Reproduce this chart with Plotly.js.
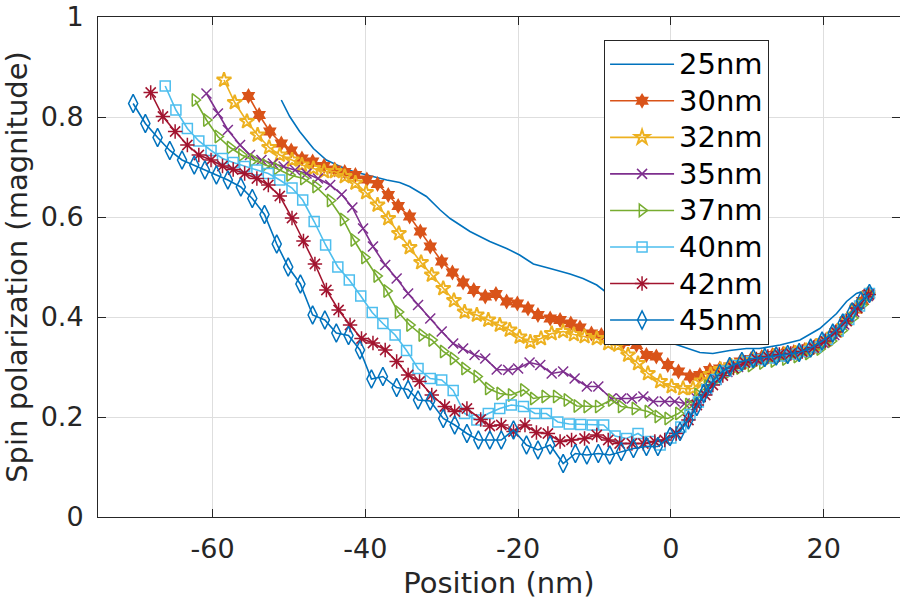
<!DOCTYPE html>
<html>
<head>
<meta charset="utf-8">
<script src="https://cdn.plot.ly/plotly-3.0.1.min.js"></script>
<style>
  body { margin: 0; background: #ffffff; }
  #chart { width: 900px; height: 600px; }
</style>
</head>
<body>
<div id="chart"></div>
<script>
// Spin polarization magnitude vs position, one series per thickness.
// Values.

const pos25 = [-51.0, -49.9, -48.6, -46.8, -45.1, -43.3, -41.6, -39.8, -37.2, -35.5,
  -34.2, -32.0, -30.2, -28.9, -26.3, -23.7, -21.5, -19.8, -18.0, -15.8,
  -13.2, -11.5, -9.7, -8.6, -6.5, -4.5, -2.5, -1.0, 0.3, 2.1,
  3.8, 5.5, 7.7, 9.9, 11.6, 14.3, 16.9, 19.5, 21.7, 23.0, 24.3, 25.6];
const pol25 = [0.834, 0.801, 0.771, 0.737, 0.714, 0.701, 0.691, 0.684, 0.674, 0.669,
  0.661, 0.641, 0.614, 0.597, 0.571, 0.551, 0.537, 0.524, 0.506, 0.497,
  0.486, 0.477, 0.464, 0.451, 0.430, 0.405, 0.380, 0.360, 0.347, 0.337,
  0.329, 0.327, 0.333, 0.337, 0.337, 0.344, 0.354, 0.377, 0.407, 0.431, 0.447, 0.454];

const pos30 = [-55.3, -53.9, -52.5, -51.0, -49.7, -48.3, -46.9, -45.4, -44.0, -42.7,
  -41.3, -39.8, -38.4, -37.0, -35.7, -34.2, -32.8, -31.5, -30.0, -28.6,
  -27.2, -25.8, -24.3, -22.9, -21.5, -20.1, -18.7, -17.4, -15.8, -14.5,
  -13.1, -11.9, -10.4, -9.1, -7.7, -6.2, -4.5, -3.2, -1.9, -0.4,
  1.0, 2.5, 3.8, 5.1, 6.4, 7.7, 9.1, 10.5, 11.9, 13.3,
  14.7, 16.1, 17.5, 18.9, 20.3, 21.6, 22.9, 24.2, 25.1, 25.9];
const pol30 = [0.842, 0.804, 0.771, 0.747, 0.733, 0.717, 0.711, 0.702, 0.695, 0.690,
  0.684, 0.675, 0.666, 0.644, 0.622, 0.601, 0.571, 0.541, 0.511, 0.489,
  0.469, 0.454, 0.441, 0.446, 0.431, 0.427, 0.417, 0.404, 0.397, 0.394,
  0.387, 0.379, 0.367, 0.364, 0.358, 0.350, 0.344, 0.324, 0.321, 0.304,
  0.291, 0.281, 0.284, 0.294, 0.297, 0.301, 0.311, 0.316, 0.320, 0.324,
  0.327, 0.330, 0.334, 0.342, 0.354, 0.370, 0.392, 0.415, 0.432, 0.446];

const pos32 = [-58.5, -57.1, -55.5, -54.1, -52.6, -51.2, -49.6, -48.3, -46.8, -45.4,
  -44.0, -42.7, -41.3, -39.9, -38.4, -37.0, -35.6, -34.2, -32.7, -31.3,
  -29.8, -28.4, -27.0, -25.4, -23.9, -22.4, -21.1, -19.8, -18.4, -17.0,
  -15.6, -14.1, -12.7, -11.3, -9.7, -8.2, -6.9, -5.6, -4.3, -3.0,
  -1.4, 0.1, 1.6, 2.9, 4.0, 5.2, 6.5, 7.9, 9.3, 10.7,
  12.1, 13.5, 14.9, 16.3, 17.7, 19.1, 20.5, 21.8, 23.1, 24.4, 25.8];
const pol32 = [0.874, 0.829, 0.791, 0.764, 0.739, 0.724, 0.714, 0.704, 0.697, 0.691,
  0.691, 0.681, 0.668, 0.649, 0.624, 0.597, 0.567, 0.539, 0.509, 0.484,
  0.457, 0.433, 0.410, 0.404, 0.394, 0.384, 0.374, 0.360, 0.350, 0.357,
  0.367, 0.371, 0.365, 0.361, 0.357, 0.347, 0.344, 0.324, 0.307, 0.287,
  0.271, 0.261, 0.257, 0.257, 0.272, 0.285, 0.295, 0.302, 0.309, 0.314,
  0.318, 0.322, 0.325, 0.328, 0.333, 0.342, 0.355, 0.372, 0.395, 0.420, 0.445];

const pos35 = [-60.8, -59.3, -58.0, -56.4, -55.1, -53.6, -52.1, -50.7, -49.2, -47.7,
  -46.2, -44.6, -43.1, -41.7, -40.3, -39.0, -37.4, -35.9, -34.4, -33.1,
  -31.5, -30.0, -28.5, -27.2, -25.7, -24.3, -22.8, -21.3, -20.0, -18.5,
  -17.1, -15.6, -14.1, -12.6, -11.0, -9.5, -7.8, -6.5, -5.1, -3.6,
  -2.3, -0.8, 0.5, 1.8, 3.4, 4.7, 6.0, 7.4, 8.8, 10.2,
  11.6, 13.0, 14.4, 15.8, 17.2, 18.6, 20.0, 21.4, 22.7, 24.0, 25.8];
const pol35 = [0.847, 0.807, 0.774, 0.744, 0.724, 0.714, 0.707, 0.701, 0.694, 0.687,
  0.677, 0.664, 0.645, 0.619, 0.577, 0.541, 0.504, 0.477, 0.447, 0.424,
  0.397, 0.371, 0.347, 0.337, 0.324, 0.317, 0.295, 0.294, 0.297, 0.309,
  0.304, 0.287, 0.291, 0.277, 0.261, 0.261, 0.237, 0.237, 0.237, 0.241,
  0.231, 0.231, 0.231, 0.227, 0.237, 0.255, 0.275, 0.290, 0.300, 0.307,
  0.312, 0.316, 0.320, 0.324, 0.329, 0.337, 0.348, 0.364, 0.385, 0.410, 0.442];

const pos37 = [-62.3, -60.8, -59.3, -57.7, -56.2, -54.7, -53.1, -51.6, -49.9, -48.1,
  -46.5, -44.6, -42.9, -41.5, -40.1, -38.5, -37.2, -35.7, -34.2, -32.6,
  -31.3, -29.8, -28.5, -27.0, -25.4, -23.9, -22.4, -20.9, -19.3, -18.0,
  -16.5, -15.0, -13.6, -12.3, -11.0, -9.5, -7.8, -6.5, -4.7, -3.0,
  -1.7, -0.4, 1.0, 2.3, 3.5, 4.8, 6.2, 7.6, 9.0, 10.5,
  12.0, 13.5, 15.0, 16.5, 18.0, 19.5, 21.0, 22.4, 23.8, 25.0, 26.0];
const pol37 = [0.834, 0.794, 0.761, 0.739, 0.724, 0.714, 0.704, 0.697, 0.684, 0.677,
  0.661, 0.633, 0.595, 0.554, 0.519, 0.482, 0.452, 0.410, 0.384, 0.364,
  0.354, 0.331, 0.317, 0.297, 0.281, 0.257, 0.247, 0.244, 0.254, 0.237,
  0.241, 0.241, 0.234, 0.222, 0.221, 0.221, 0.234, 0.221, 0.217, 0.211,
  0.201, 0.197, 0.207, 0.225, 0.245, 0.262, 0.278, 0.290, 0.298, 0.303,
  0.308, 0.312, 0.316, 0.321, 0.327, 0.336, 0.352, 0.373, 0.398, 0.424, 0.445];

const pos40 = [-66.2, -64.8, -63.3, -61.8, -60.2, -58.7, -57.3, -55.8, -54.2, -52.7,
  -51.2, -49.6, -48.2, -46.7, -45.2, -43.6, -42.1, -40.6, -39.1, -37.7,
  -36.1, -34.6, -33.1, -31.5, -30.0, -28.5, -27.0, -25.4, -23.9, -22.4,
  -20.9, -19.3, -17.8, -16.3, -14.8, -13.3, -11.8, -10.3, -8.8, -7.3,
  -5.8, -4.3, -2.7, -1.4, 0.0, 1.3, 2.5, 3.6, 4.7, 5.9,
  7.2, 8.6, 10.0, 11.5, 13.0, 14.5, 16.0, 17.5, 19.0, 20.5,
  21.9, 23.3, 24.7, 26.0];
const pol40 = [0.862, 0.814, 0.777, 0.752, 0.733, 0.717, 0.709, 0.701, 0.694, 0.687,
  0.674, 0.658, 0.634, 0.591, 0.544, 0.500, 0.474, 0.442, 0.409, 0.387,
  0.364, 0.333, 0.297, 0.277, 0.274, 0.253, 0.207, 0.194, 0.207, 0.217,
  0.224, 0.221, 0.207, 0.207, 0.190, 0.186, 0.185, 0.184, 0.184, 0.162,
  0.157, 0.167, 0.151, 0.144, 0.158, 0.180, 0.205, 0.230, 0.255, 0.275,
  0.292, 0.303, 0.311, 0.315, 0.318, 0.322, 0.326, 0.331, 0.340, 0.355,
  0.372, 0.395, 0.422, 0.447];

const pos42 = [-68.1, -66.5, -64.9, -63.3, -61.8, -60.2, -58.7, -57.3, -55.8, -54.2,
  -52.7, -51.2, -49.6, -48.1, -46.6, -45.1, -43.5, -42.0, -40.5, -39.0,
  -37.4, -35.9, -34.4, -32.9, -31.3, -29.6, -28.3, -26.7, -24.9, -23.7,
  -22.2, -20.6, -19.1, -17.6, -16.1, -14.5, -13.0, -11.3, -9.7, -8.2,
  -6.7, -5.1, -3.6, -2.1, -0.8, 0.7, 2.3, 3.4, 4.5, 5.5,
  6.8, 8.2, 9.7, 11.2, 12.7, 14.2, 15.7, 17.2, 18.7, 20.2,
  21.6, 23.0, 24.4, 25.9];
const pol42 = [0.849, 0.801, 0.771, 0.744, 0.724, 0.714, 0.702, 0.695, 0.687, 0.677,
  0.664, 0.642, 0.598, 0.552, 0.506, 0.454, 0.414, 0.384, 0.357, 0.348,
  0.334, 0.311, 0.284, 0.271, 0.244, 0.221, 0.211, 0.217, 0.195, 0.182,
  0.184, 0.171, 0.184, 0.169, 0.167, 0.151, 0.154, 0.157, 0.164, 0.154,
  0.147, 0.147, 0.147, 0.151, 0.154, 0.167, 0.194, 0.224, 0.244, 0.264,
  0.283, 0.298, 0.309, 0.316, 0.321, 0.325, 0.327, 0.331, 0.339, 0.352,
  0.370, 0.392, 0.418, 0.445];

const pos45 = [-70.4, -68.8, -67.2, -65.6, -64.0, -62.4, -61.0, -59.5, -58.0, -56.3,
  -54.8, -53.2, -51.6, -50.1, -48.5, -46.9, -45.3, -43.8, -42.2, -40.7,
  -39.2, -37.7, -35.9, -34.4, -33.1, -31.5, -29.8, -28.3, -26.7, -25.2,
  -23.7, -22.2, -20.6, -18.9, -17.4, -15.8, -14.1, -12.5, -11.0, -9.5,
  -8.0, -6.5, -4.9, -3.2, -1.7, -0.1, 1.2, 2.3, 3.4, 4.3,
  5.2, 6.4, 7.7, 9.3, 10.8, 12.3, 13.8, 15.3, 16.8, 18.3,
  19.8, 21.2, 22.5, 23.7, 24.9, 26.0];
const pol45 = [0.827, 0.787, 0.759, 0.733, 0.714, 0.704, 0.694, 0.684, 0.674, 0.660,
  0.637, 0.605, 0.546, 0.500, 0.466, 0.404, 0.394, 0.368, 0.363, 0.334,
  0.276, 0.281, 0.259, 0.255, 0.234, 0.232, 0.197, 0.184, 0.167, 0.154,
  0.154, 0.154, 0.174, 0.144, 0.134, 0.144, 0.107, 0.127, 0.124, 0.127,
  0.124, 0.131, 0.137, 0.141, 0.141, 0.161, 0.171, 0.194, 0.221, 0.247,
  0.267, 0.287, 0.301, 0.311, 0.317, 0.319, 0.322, 0.325, 0.329, 0.338,
  0.352, 0.368, 0.388, 0.410, 0.432, 0.447];

const seriesNames = ["25nm", "30nm", "32nm", "35nm", "37nm", "40nm", "42nm", "45nm"];

const xTickVals = [-60, -40, -20, 0, 20];
const xTickText = ["-60", "-40", "-20", "0", "20"];
const yTickVals = [0, 0.2, 0.4, 0.6, 0.8, 1];
const yTickText = ["0", "0.2", "0.4", "0.6", "0.8", "1"];

// MATLAB default colour order
PLOT_COLORS = {
  "C0": "#0072BD", "C1": "#D95319", "C2": "#EDB120", "C3": "#7E2F8E",
  "C4": "#77AC30", "C5": "#4DBEEE", "C6": "#A2142F"
};

const FONT = "DejaVu Sans, Liberation Sans, sans-serif";
const AXIS_COLOR = "#262626";

/**
 * Build one scatter trace
 * @param {list} x positions
 * @param {list} y polarization values
 * @param {string} name legend label
 * @param {string} color line/marker colour
 * @param {string} symbol plotly marker symbol, or null for a plain line
 * @param {number} size marker size
 * @param {number} mlw marker outline width
 */
function makeTrace(x, y, name, color, symbol, size, mlw) {
  // legend rows are spaced from the legend font size, the label itself is a bit bigger
  let trace = {
    x: x, y: y, type: 'scatter',
    name: '<span style="font-size:29px">' + name + '</span>',
    mode: symbol ? 'lines+markers' : 'lines',
    line: {color: color, width: 1.6},
    hoverinfo: 'skip'
  };
  if (symbol) {
    trace.marker = {
      symbol: symbol, size: size,
      color: color,
      line: {color: color, width: mlw}
    };
  }
  return trace;
}

function axisStyle() {
  return {
    ticks: 'inside', ticklen: 8, tickwidth: 1, tickcolor: AXIS_COLOR,
    showline: true, linecolor: AXIS_COLOR, linewidth: 1, mirror: 'ticks',
    showgrid: true, gridcolor: '#dedede', gridwidth: 1, zeroline: false,
    tickfont: {family: FONT, size: 27, color: AXIS_COLOR},
    ticklabelstandoff: 8
  };
}

function drawChart() {
  let plots = [
    makeTrace(pos25, pol25, seriesNames[0], PLOT_COLORS["C0"], null, 0, 0),
    makeTrace(pos30, pol30, seriesNames[1], PLOT_COLORS["C1"], 'hexagram', 12, 0),
    makeTrace(pos32, pol32, seriesNames[2], PLOT_COLORS["C2"], 'star-open', 11, 2),
    makeTrace(pos35, pol35, seriesNames[3], PLOT_COLORS["C3"], 'x-thin-open', 10, 1.5),
    makeTrace(pos37, pol37, seriesNames[4], PLOT_COLORS["C4"], 'triangle-right-open', 11, 1.5),
    makeTrace(pos40, pol40, seriesNames[5], PLOT_COLORS["C5"], 'square-open', 10, 1.5),
    makeTrace(pos42, pol42, seriesNames[6], PLOT_COLORS["C6"], 'asterisk-open', 12, 1.5),
    makeTrace(pos45, pol45, seriesNames[7], PLOT_COLORS["C0"], 'diamond-tall-open', 13, 1.5)
  ];

  let xaxis = axisStyle();
  xaxis.range = [-75, 30];
  xaxis.tickvals = xTickVals;
  xaxis.ticktext = xTickText;
  xaxis.title = {text: 'Position (nm)', font: {family: FONT, size: 29, color: AXIS_COLOR}};

  let yaxis = axisStyle();
  yaxis.range = [0, 1];
  yaxis.tickvals = yTickVals;
  yaxis.ticktext = yTickText;
  yaxis.title = {text: 'Spin polarization (magnitude)', standoff: 4,
    font: {family: FONT, size: 29, color: AXIS_COLOR}};

  let layout = {
    width: 900, height: 600,
    margin: {l: 98, r: 0, t: 17, b: 83},
    paper_bgcolor: '#ffffff', plot_bgcolor: '#ffffff',
    xaxis: xaxis, yaxis: yaxis,
    showlegend: true,
    legend: {
      x: 0.631, y: 0.954, xanchor: 'left', yanchor: 'top',
      bgcolor: '#ffffff', bordercolor: AXIS_COLOR, borderwidth: 1,
      font: {family: FONT, size: 25.8, color: '#000000'},
      itemwidth: 64, tracegroupgap: 0
    }
  };
  Plotly.newPlot('chart', plots, layout, {staticPlot: true});
}

drawChart();
</script>
</body>
</html>
